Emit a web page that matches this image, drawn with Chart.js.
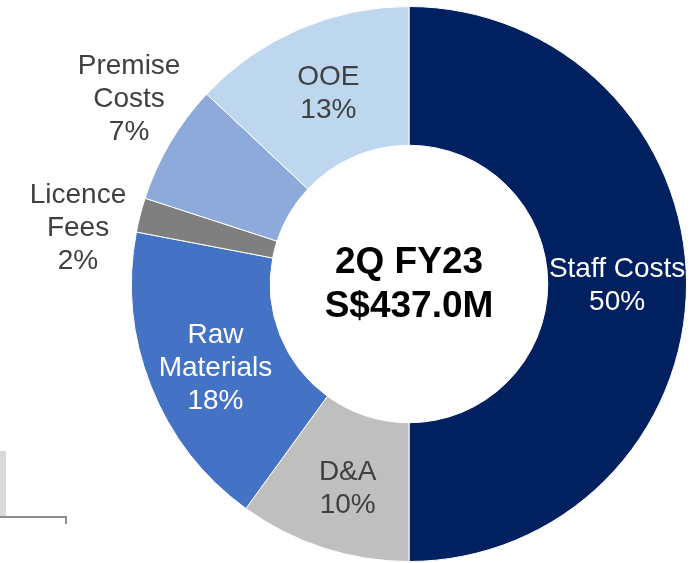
<!DOCTYPE html>
<html>
<head>
<meta charset="utf-8">
<script src="https://cdn.jsdelivr.net/npm/chart.js@4"></script>
<style>
  html, body { margin: 0; padding: 0; background: #fff; }
  #wrap { position: relative; width: 700px; height: 563px; overflow: hidden; }
  canvas { position: absolute; left: 0; top: 0; }
  .frag-box { position: absolute; left: 0; top: 451px; width: 6px; height: 65px; background: #d9d9d9; }
  .frag-line { position: absolute; left: 0; top: 516px; width: 66px; height: 0; border-top: 2px solid #8c8c8c; }
  .frag-tick { position: absolute; left: 65px; top: 516px; width: 0; height: 8px; border-left: 2px solid #8c8c8c; }
</style>
</head>
<body>
<div id="wrap">
  <div class="frag-box"></div>
  <div class="frag-line"></div>
  <div class="frag-tick"></div>
  <canvas id="costChart" width="700" height="563"></canvas>
</div>
<script>
const categories = ['Staff Costs', 'D&A', 'Raw Materials', 'Licence Fees', 'Premise Costs', 'OOE'];
const shares = [50, 10, 18, 2, 7, 13];
const labelLines = [['Staff Costs'], ['D&A'], ['Raw', 'Materials'], ['Licence', 'Fees'], ['Premise', 'Costs'], ['OOE']];
const centerLines = ['2Q FY23', 'S$437.0M'];

const colors = ['#002060', '#bfbfbf', '#4472c4', '#7f7f7f', '#8eaadb', '#bdd7ee'];
const textColors = ['#ffffff', '#404040', '#ffffff', '#404040', '#404040', '#404040'];
const outside = [false, false, false, true, true, false];
const nudge = [[0, 2], [3, 7], [0, 8], [-7, 27], [8, -14], [2, 1]];

const FONT = '"Liberation Sans", Arial, sans-serif';

// labels + centre text
const labelPlugin = {
  id: 'sliceLabels',
  afterDatasetsDraw(chart) {
    const ctx = chart.ctx;
    const arcs = chart.getDatasetMeta(0).data;
    ctx.save();
    ctx.textAlign = 'center';
    ctx.textBaseline = 'middle';
    ctx.font = '28px ' + FONT;
    const lh = 33;
    arcs.forEach((arc, i) => {
      const p = arc.getProps(['x', 'y', 'startAngle', 'endAngle', 'innerRadius', 'outerRadius']);
      const mid = (p.startAngle + p.endAngle) / 2;
      const r = outside[i] ? p.outerRadius + 57 : (p.innerRadius + p.outerRadius) / 2;
      const x = p.x + Math.cos(mid) * r + nudge[i][0];
      const y = p.y + Math.sin(mid) * r + nudge[i][1];
      const lines = labelLines[i].concat([shares[i] + '%']);
      ctx.fillStyle = textColors[i];
      lines.forEach((t, k) => {
        ctx.fillText(t, x, y + (k - (lines.length - 1) / 2) * lh);
      });
    });
    const c = arcs[0];
    ctx.fillStyle = '#000';
    ctx.font = 'bold 37px ' + FONT;
    ctx.fillText(centerLines[0], c.x, c.y - 21);
    ctx.fillText(centerLines[1], c.x, c.y + 23);
    ctx.restore();
  }
};

new Chart(document.getElementById('costChart').getContext('2d'), {
  type: 'doughnut',
  data: {
    labels: categories,
    datasets: [{
      data: shares,
      backgroundColor: colors,
      borderColor: '#ffffff',
      borderWidth: 1,
      hoverOffset: 0
    }]
  },
  options: {
    responsive: false,
    animation: false,
    cutout: '50%',
    layout: { padding: { left: 131, right: 13, top: 6, bottom: 1 } },
    plugins: {
      legend: { display: false },
      tooltip: { enabled: false }
    }
  },
  plugins: [labelPlugin]
});
</script>
</body>
</html>
